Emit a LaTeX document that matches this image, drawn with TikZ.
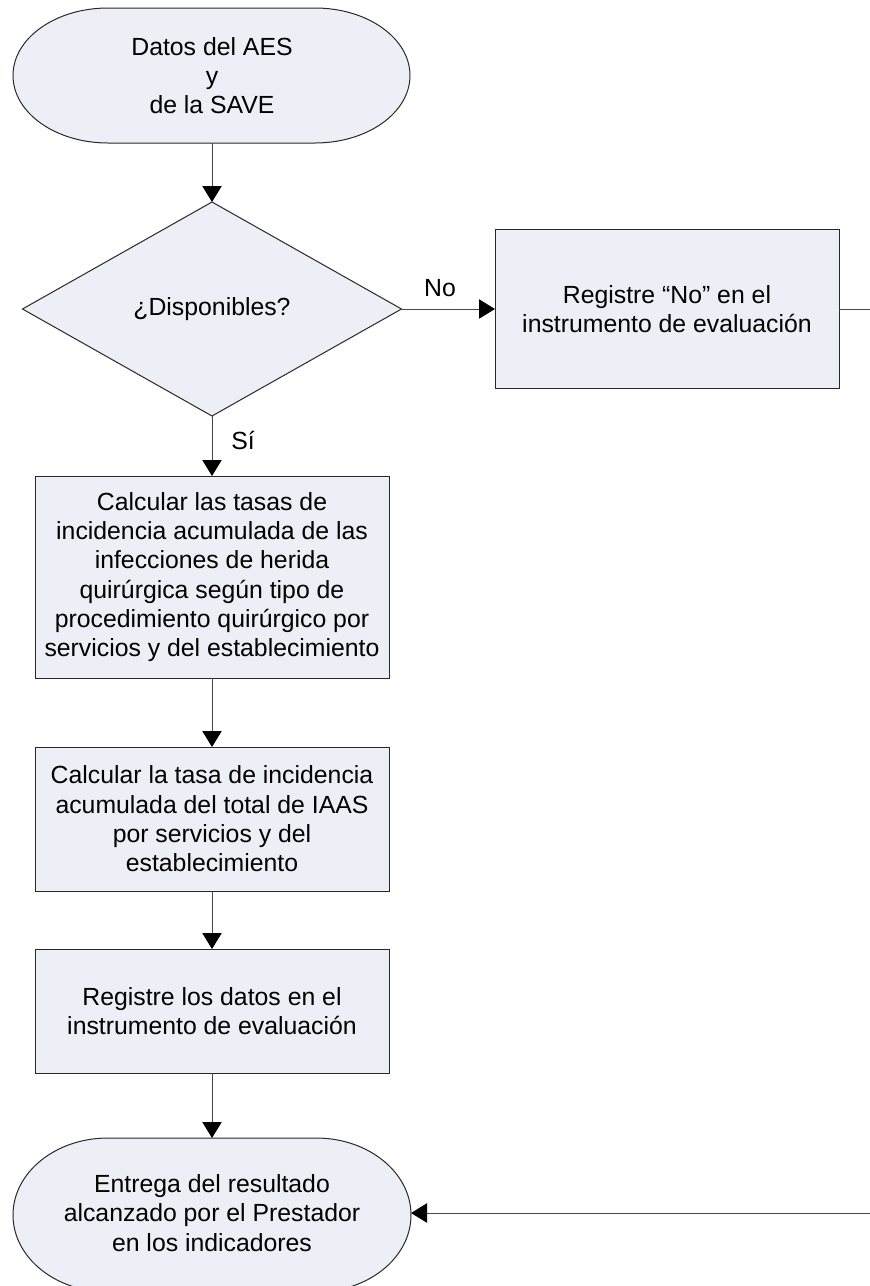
\documentclass[tikz,border=0pt]{standalone}
\usepackage{fontspec}
\setmainfont{Liberation Sans}
\usetikzlibrary{shapes.geometric,arrows.meta}
\definecolor{shapefill}{RGB}{236,240,246}
\definecolor{linegray}{RGB}{70,70,70}
\definecolor{edgegray}{RGB}{40,40,40}
\tikzset{
  txt/.style={font=\fontsize{18.6}{22}\selectfont},
  box/.style={txt, rectangle, draw=edgegray, fill=shapefill, line width=0.75pt,
    inner sep=0pt, outer sep=0pt, align=center},
  decision/.style={txt, diamond, draw=edgegray, fill=shapefill, line width=0.75pt,
    inner sep=0pt, outer sep=0pt, aspect=1.77},
  termtext/.style={txt, rectangle, inner sep=0pt, outer sep=0pt, align=center},
  termshape/.style={draw=edgegray, fill=shapefill, line width=0.75pt},
  conn/.style={draw=linegray, line width=0.75pt, -{Triangle[width=14.5pt,length=12pt,color=black]}},
  plainconn/.style={draw=linegray, line width=0.75pt},
  lbl/.style={txt, inner sep=0pt}
}
\begin{document}
\begin{tikzpicture}[x=0.75pt,y=-0.75pt]
\useasboundingbox (0,0) rectangle (870,1286);
% start terminator
\path[termshape] (108,8) -- (315,8)
  arc[start angle=-90,end angle=90,x radius=95,y radius=67.5]
  -- (108,143) arc[start angle=90,end angle=270,x radius=95,y radius=67.5] -- cycle;
\node[termtext, minimum width=397*0.75pt, minimum height=135*0.75pt] (start) at (212,75.5)
  {Datos del AES\\y\\de la SAVE};
% decision
\node[decision, minimum width=379*0.75pt, minimum height=214*0.75pt] (dec) at (212,309) {¿Disponibles?};
% right box
\node[box, minimum width=344*0.75pt, minimum height=159*0.75pt] (reg) at (667,309)
  {Registre “No” en el\\instrumento de evaluación};
% process boxes
\node[box, minimum width=354*0.75pt, minimum height=202*0.75pt] (b1) at (212,577)
  {Calcular las tasas de\\incidencia acumulada de las\\infecciones de herida\\quirúrgica según tipo de\\procedimiento quirúrgico por\\servicios y del establecimiento};
\node[box, minimum width=354*0.75pt, minimum height=144*0.75pt] (b2) at (212,819)
  {Calcular la tasa de incidencia\\acumulada del total de IAAS\\por servicios y del\\establecimiento};
\node[box, minimum width=354*0.75pt, minimum height=124*0.75pt] (b3) at (212,1011)
  {Registre los datos en el\\instrumento de evaluación};
% end terminator
\path[termshape] (108,1138) -- (316,1138)
  arc[start angle=-90,end angle=90,x radius=95,y radius=77]
  -- (108,1292) arc[start angle=90,end angle=270,x radius=95,y radius=77] -- cycle;
\node[termtext, minimum width=398*0.75pt, minimum height=150*0.75pt] (end) at (212,1213)
  {Entrega del resultado\\alcanzado por el Prestador\\en los indicadores};
% labels
\node[lbl] (lno) at (440,288) {No};
\node[lbl] (lsi) at (243,440) {Sí};
% connectors
\coordinate (r1) at (870,309);
\coordinate (r2) at (870,1213);
\draw[conn] (start.south) -- (dec.north);
\draw[conn] (dec.east) -- (reg.west);
\draw[plainconn] (reg.east) -- (r1);
\draw[conn] (dec.south) -- (b1.north);
\draw[conn] (b1.south) -- (b2.north);
\draw[conn] (b2.south) -- (b3.north);
\draw[conn] (b3.south) -- (end.north);
\draw[conn] (r2) -- (end.east);
\end{tikzpicture}
\end{document}
